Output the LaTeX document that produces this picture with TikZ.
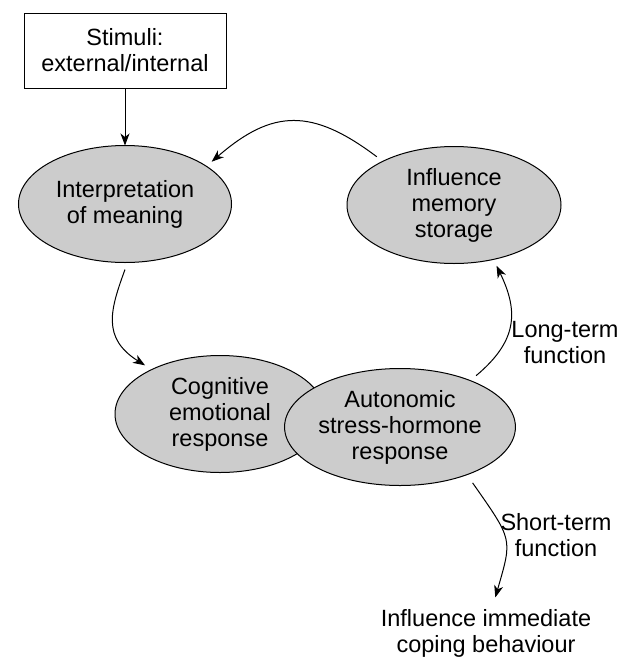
\documentclass[tikz,border=0pt]{standalone}
\usepackage{fontspec}
\setmainfont{Liberation Sans}
\usetikzlibrary{shapes.geometric}
\usetikzlibrary{arrows.meta}

\begin{document}
\begin{tikzpicture}[
			     x=1pt, y=1pt,
			     font=\fontsize{23.5}{26}\selectfont,
			     >={Stealth[length=12pt,width=9pt,inset=3.5pt]},
			     stage/.style={ellipse, draw, line width=1pt, fill=black!20, inner sep=0pt, outer sep=7pt, align=center, minimum width=#1, minimum height=117pt},
			     input box/.style={rectangle, draw, line width=1pt, inner sep=0pt, align=center, minimum width=202pt, minimum height=75pt},
			     note/.style={align=center, inner sep=0pt},
			     normal line/.style={->, line width=1pt}
			     ]
\useasboundingbox (0,0) rectangle (623,-657);
%
\node[input box] (stim) at (125,-50.5) {Stimuli:\\external/internal};
\node[stage=213pt] (interp) at (125,-204) {Interpretation\\of meaning};
\node[stage=214pt] (memory) at (454,-205) {Influence\\memory\\storage};
\node[stage=210pt] (cogn) at (220,-414) {Cognitive\\emotional\\response};
\node[stage=216pt] (auto) at (400,-427) {Autonomic\\stress-hormone\\response};
\node[note, anchor=north] (coping) at (486,-609) {Influence immediate\\coping behaviour};
%
\node[note] (longterm) at (565,-343) {Long-term\\function};
\node[note] (shortterm) at (556,-535) {Short-term\\function};
%
\path[normal line] (stim) edge[shorten >=-7pt] (interp);
\path[normal line] (memory.148) edge[out=143, in=41, looseness=1.25] (interp.26);
\path[normal line] (interp.270) edge[out=250, in=148, out looseness=1.1, in looseness=1.35] (cogn.147);
\path[normal line] (auto.34) edge[out=40, in=-64, looseness=1.2] (memory.-55);
%
\path[normal line] (auto.-37) edge[out=-55, in=74, looseness=1.45, shorten <=3pt, shorten >=12pt] ([xshift=6pt]coping.north);
\end{tikzpicture}
\end{document}
